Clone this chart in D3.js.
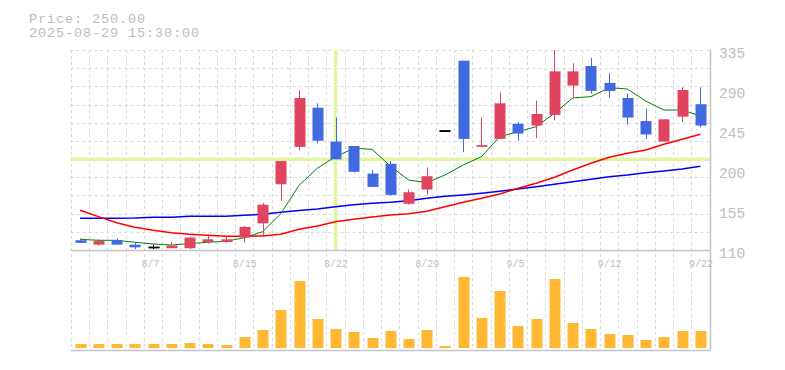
<!DOCTYPE html>
<html>
<head>
<meta charset="utf-8">
<script src="https://cdn.jsdelivr.net/npm/d3@7"></script>
<style>
  html, body { margin: 0; padding: 0; background: #fff; }
  svg { display: block; }
</style>
</head>
<body>
<svg id="chart" width="785" height="370"></svg>
<script>
// ---- data ----
const dates = ["8/1","8/4","8/5","8/6","8/7","8/8","8/12","8/13","8/14","8/15",
  "8/18","8/19","8/20","8/21","8/22","8/25","8/26","8/27","8/28","8/29",
  "9/1","9/2","9/3","9/4","9/5","9/8","9/9","9/10","9/11","9/12",
  "9/16","9/17","9/18","9/19","9/22"];
const opens  = [121,116,121,116,113,112,112,119,119,124, 140,184,226,270,232,227,196,207,162,178, 244,323,226,235,252,250,262,295,317,298, 281,255,232,260,274];
const highs  = [123,122,123,118,116,119,125,126,126,137, 163,210,290,275,259,227,200,210,178,203, 244,323,259,287,254,278,335,320,326,309, 286,269,257,293,293];
const lows   = [118,115,116,111,111,112,111,117,118,118, 127,165,222,230,212,197,181,171,161,172, 244,220,226,235,233,236,256,281,286,281, 251,235,232,254,248];
const closes = [118,120,116,113,113,115,124,122,122,136, 161,210,281,233,212,198,181,172,175,193, 244,235,228,275,241,263,311,311,289,289, 259,240,257,290,250];
const volumes = [120,120,120,120,120,120,150,120,90,330, 540,1140,2010,870,570,480,300,510,270,540, 60,2130,900,1710,660,870,2070,750,570,420, 390,240,330,510,510];
const ma5  = [122.0,120.9,120.9,118.7,116.8,115.6,117.1,118.7,119.8,123.8, 130.6,150.8,182.8,201.9,215.0,224.4,223.3,204.5,188.8,185.7, 194.4,205.6,215.0,237.5,243.1,248.7,263.8,281.0,282.5,292.6, 291.1,277.6,267.5,267.5,260.8];
const ma25 = [154.7,147.5,140.7,135.5,132.2,129.5,127.7,126.5,125.4,125.4, 125.8,127.7,133.3,137.0,141.8,144.5,147.1,149.4,150.8,153.5, 158.7,163.7,168.2,173.0,179.4,185.0,191.8,200.0,207.5,214.3, 218.8,222.5,228.9,234.5,240.2];
const ma75 = [145.7,145.7,145.7,146.0,146.8,146.8,147.9,147.9,147.9,149.0, 150.2,152.4,154.4,156.1,158.7,161.0,162.5,163.7,165.5,168.2, 170.4,171.9,173.8,176.0,178.6,181.2,183.9,186.8,189.5,192.5, 194.4,197.0,198.9,201.1,204.2];
const yTickValues = [110,155,200,245,290,335];
const xTickLabels = ["8/7","8/15","8/22","8/29","9/5","9/12","9/22"];
const headerLines = ["Price: 250.00","2025-08-29 15:30:00"];
const crossDate = "8/22";
const crossPrice = 212;

// ---- layout ----
const L = 70.5, R = 710, T = 50, B = 250, VT = 277, VB = 348, VAX = 350;
const svg = d3.select("#chart");
const x = d3.scaleBand().domain(dates).range([71, 709.5]).paddingInner(0).paddingOuter(0);
const bw = x.bandwidth();
const barW = 11;
const cx = d => x(d) + bw / 2;
const y = d3.scaleLinear().domain([110, 335]).range([B, T]);
const yv = d3.scaleLinear().domain([0, d3.max(volumes)]).range([VB, VT]);

const gridColor = "#d9d9d9";
const textColor = "#bdbdbd";
const mono = "'Liberation Mono', 'DejaVu Sans Mono', monospace";

// horizontal grid (11 intervals)
const hGrid = d3.range(12).map(i => 110 + i * (335 - 110) / 11);
svg.append("g").selectAll("line").data(hGrid.slice(1)).join("line")
  .attr("x1", L).attr("x2", R)
  .attr("y1", d => Math.round(y(d)) + 0.5).attr("y2", d => Math.round(y(d)) + 0.5)
  .attr("stroke", gridColor).attr("stroke-dasharray", "3,3");

// vertical grid at band boundaries, spanning both panels
const vGrid = dates.map(d => x(d));
svg.append("g").selectAll("line").data(vGrid).join("line")
  .attr("x1", d => Math.round(d) + 0.5).attr("x2", d => Math.round(d) + 0.5)
  .attr("y1", T).attr("y2", VAX)
  .attr("stroke", gridColor).attr("stroke-dasharray", "3,3");

// crosshair
svg.append("line").attr("x1", L).attr("x2", R)
  .attr("y1", y(crossPrice)).attr("y2", y(crossPrice))
  .attr("stroke", "#e3f5a3").attr("stroke-width", 3.5);
svg.append("line").attr("x1", cx(crossDate)).attr("x2", cx(crossDate))
  .attr("y1", T).attr("y2", B)
  .attr("stroke", "#e3f5a3").attr("stroke-width", 3.5);

// axes lines
svg.append("line").attr("x1", L).attr("x2", R).attr("y1", B + 0.5).attr("y2", B + 0.5)
  .attr("stroke", "#c4c4c4").attr("stroke-width", 1.5);
svg.append("line").attr("x1", L).attr("x2", R).attr("y1", VAX + 0.5).attr("y2", VAX + 0.5)
  .attr("stroke", "#c4c4c4").attr("stroke-width", 1.5);
svg.append("line").attr("x1", R + 0.5).attr("x2", R + 0.5).attr("y1", T).attr("y2", VAX)
  .attr("stroke", "#c4c4c4").attr("stroke-width", 1.5);

// moving averages
const lineGen = arr => d3.line().x((v, i) => cx(dates[i])).y(v => y(v))(arr);
svg.append("path").attr("d", lineGen(ma75)).attr("fill", "none")
  .attr("stroke", "#0000ff").attr("stroke-width", 1.5);
svg.append("path").attr("d", lineGen(ma25)).attr("fill", "none")
  .attr("stroke", "#ff0000").attr("stroke-width", 1.5);
svg.append("path").attr("d", lineGen(ma5)).attr("fill", "none")
  .attr("stroke", "#008000").attr("stroke-width", 1);

// candles
const up = "#e0445f", down = "#4169e1";
const col = i => closes[i] > opens[i] ? up : (closes[i] < opens[i] ? down : "#000");
const idx = d3.range(dates.length);
const cg = svg.append("g");
cg.selectAll("line.wick").data(idx).join("line")
  .attr("class", "wick")
  .attr("x1", i => Math.round(cx(dates[i])) + 0.5).attr("x2", i => Math.round(cx(dates[i])) + 0.5)
  .attr("y1", i => y(highs[i])).attr("y2", i => y(lows[i]))
  .attr("stroke", col).attr("stroke-width", 1);
cg.selectAll("rect.body").data(idx).join("rect")
  .attr("class", "body")
  .attr("x", i => Math.round(cx(dates[i]) - barW / 2) + 0.5)
  .attr("width", barW)
  .attr("y", i => y(Math.max(opens[i], closes[i])))
  .attr("height", i => Math.max(1, y(Math.min(opens[i], closes[i])) - y(Math.max(opens[i], closes[i]))))
  .attr("fill", col);
cg.selectAll("line.doji").data(idx.filter(i => opens[i] === closes[i])).join("line")
  .attr("class", "doji")
  .attr("x1", i => Math.round(cx(dates[i]) - barW / 2) + 0.5)
  .attr("x2", i => Math.round(cx(dates[i]) + barW / 2) + 0.5)
  .attr("y1", i => y(closes[i])).attr("y2", i => y(closes[i]))
  .attr("stroke", "#000").attr("stroke-width", 1.5);

// volume bars
svg.append("g").selectAll("rect").data(idx).join("rect")
  .attr("x", i => Math.round(cx(dates[i]) - barW / 2) + 0.5)
  .attr("width", barW)
  .attr("y", i => yv(volumes[i]))
  .attr("height", i => VB - yv(volumes[i]))
  .attr("fill", "#ffb833");

// y labels
svg.append("g").selectAll("text").data(yTickValues).join("text")
  .attr("x", 719).attr("y", d => y(d) + 7.5)
  .attr("font-family", mono)
  .attr("font-size", 14.5).attr("fill", textColor)
  .text(d => d);

// x labels
svg.append("g").selectAll("text").data(xTickLabels).join("text")
  .attr("x", d => cx(d) - 11.5).attr("y", 267)
  .attr("font-family", mono)
  .attr("font-size", 10).attr("fill", textColor)
  .text(d => d);

// header text
svg.append("g").selectAll("text").data(headerLines).join("text")
  .attr("x", 29).attr("y", (d, i) => 22.5 + i * 14.5)
  .attr("font-family", mono)
  .attr("font-size", 13.5).attr("fill", textColor)
  .attr("textLength", d => d.length * 9 - 1).attr("lengthAdjust", "spacing")
  .text(d => d);
</script>
</body>
</html>
